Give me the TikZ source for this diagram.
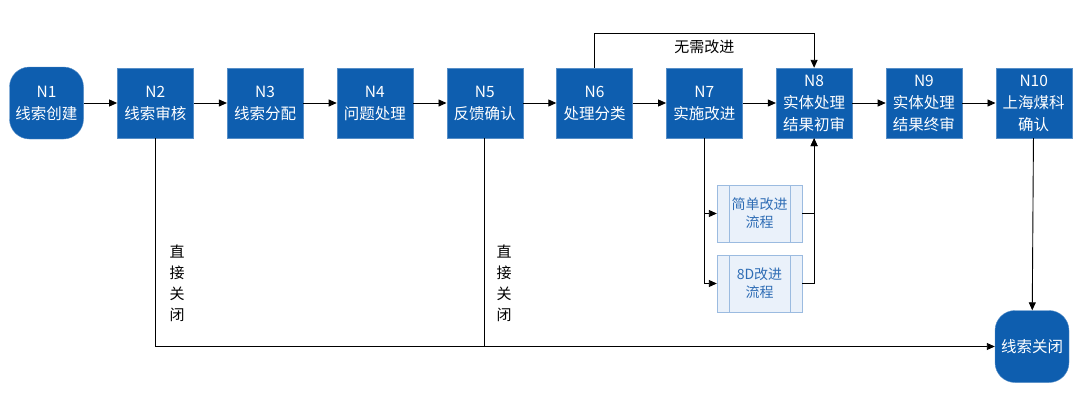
\documentclass[tikz,border=0pt]{standalone}
\usepackage{fontspec}
\setmainfont{Noto Sans CJK SC}
\usetikzlibrary{positioning,arrows.meta}
\definecolor{boxblue}{HTML}{0E5EAF}
\definecolor{subfill}{HTML}{EAF1FA}
\definecolor{subline}{HTML}{9BBBE0}
\definecolor{subtext}{HTML}{2F6DB5}
\tikzset{
  stepnode/.style={draw=boxblue!70!white,fill=boxblue,text=white,minimum width=76pt,
    minimum height=70pt,inner sep=1pt,align=center,
    font=\fontsize{15.5}{22}\selectfont},
  endnode/.style={stepnode,rounded corners=20pt,minimum width=74pt,minimum height=72pt},
  subnode/.style={draw=subline,fill=subfill,text=subtext,minimum width=85pt,
    minimum height=57pt,align=center,font=\fontsize{14}{18}\selectfont,
    path picture={
      \draw[subline] ([xshift=12pt]path picture bounding box.south west) -- ([xshift=12pt]path picture bounding box.north west);
      \draw[subline] ([xshift=-12pt]path picture bounding box.south east) -- ([xshift=-12pt]path picture bounding box.north east);
    }},
  flow/.style={line width=0.9pt,-{Triangle[length=8pt,width=7pt]}},
  plain/.style={line width=0.9pt},
  note/.style={font=\fontsize{15}{21}\selectfont,align=center}
}
\begin{document}
\begin{tikzpicture}[x=1pt,y=-1pt,node distance=33.4pt]
\useasboundingbox (0,0) rectangle (1080,407);
% main chain
\node[endnode] (n1) at (46.5,103) {N1\\线索创建};
\node[stepnode,right=of n1] (n2) {N2\\线索审核};
\node[stepnode,right=of n2] (n3) {N3\\线索分配};
\node[stepnode,right=of n3] (n4) {N4\\问题处理};
\node[stepnode,right=of n4] (n5) {N5\\反馈确认};
\node[stepnode,right=of n5] (n6) {N6\\处理分类};
\node[stepnode,right=of n6] (n7) {N7\\实施改进};
\node[stepnode,right=of n7] (n8) {N8\\实体处理\\结果初审};
\node[stepnode,right=of n8] (n9) {N9\\实体处理\\结果终审};
\node[stepnode,right=of n9] (n10) {N10\\上海煤科\\确认};
% sub processes
\node[subnode] (simple) at (759.5,213.5) {简单改进\\流程};
\node[subnode] (eightd) at (759.5,283.5) {8D改进\\流程};
\node[endnode] (close) at (1032,346.5) {线索关闭};
\coordinate (loop) at (0,33);
\coordinate (bottom) at (0,347);

\foreach \a/\b in {n1/n2,n2/n3,n3/n4,n4/n5,n5/n6,n6/n7,n7/n8,n8/n9,n9/n10}
  \draw[flow] (\a) -- (\b);
\draw[flow] (n6.north) |- (n6.north |- loop) -| (n8.north)
  node[pos=0.25,below=3pt,note] {无需改进};
\draw[flow] (n7.south) |- (simple.west);
\draw[flow] (n7.south) |- (eightd.west);
\draw[flow] (simple.east) -| (n8.south);
\draw[flow] (eightd.east) -| (n8.south);
\draw[flow] (n10) -- (close);
\draw[flow] (n2.south) |- (close.west);
\draw[plain] (n5.south) -- (n5.south |- bottom);
\node[note] (close2) at (177,283) {直\\接\\关\\闭};
\node[note] (close5) at (504,283) {直\\接\\关\\闭};
\end{tikzpicture}
\end{document}
